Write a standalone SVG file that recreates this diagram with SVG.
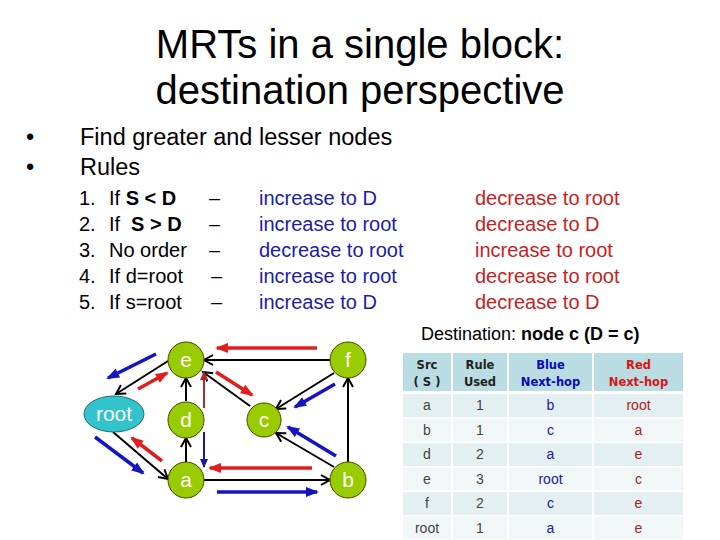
<svg xmlns="http://www.w3.org/2000/svg" width="720" height="540" viewBox="0 0 720 540">
<defs>
<style>
text{font-family:"Liberation Sans",Arial,sans-serif}
.title{font-size:40px;fill:#000;text-anchor:middle}
.bul{font-size:23.5px;fill:#000}
.rule{font-size:20px;fill:#000}
.blu{font-size:20px;fill:#1c1ca6}
.red{font-size:20px;fill:#c81e1e}
.node{fill:#99cc00;stroke:#3a4a00;stroke-width:1}
.lbl{font-size:21px;fill:#fff;text-anchor:middle}
.edge{stroke:#000;stroke-width:2;fill:none;marker-end:url(#ah)}
.ba{stroke:#1414c0;stroke-width:3.5;fill:none;marker-end:url(#bh)}
.ra{stroke:#e01e1e;stroke-width:3.5;fill:none;marker-end:url(#rh)}
.hd{font-family:"DejaVu Sans",Verdana,sans-serif;font-size:11.5px;font-weight:bold;text-anchor:middle}
.td{font-size:14px;text-anchor:middle}
</style>
<marker id="ah" markerUnits="userSpaceOnUse" markerWidth="12" markerHeight="12" refX="9" refY="5" orient="auto" overflow="visible"><path d="M0,0 L9,5 L0,10" fill="none" stroke="#000" stroke-width="2"/></marker>
<marker id="bh" markerUnits="userSpaceOnUse" markerWidth="14" markerHeight="12" refX="11" refY="5" orient="auto" overflow="visible"><path d="M0,0 L13,5 L0,10 z" fill="#1414c0"/></marker>
<marker id="rh" markerUnits="userSpaceOnUse" markerWidth="14" markerHeight="12" refX="11" refY="5" orient="auto" overflow="visible"><path d="M0,0 L13,5 L0,10 z" fill="#e01e1e"/></marker>
<marker id="bh2" markerUnits="userSpaceOnUse" markerWidth="10" markerHeight="10" refX="8" refY="4" orient="auto" overflow="visible"><path d="M0,0 L9,4 L0,8 z" fill="#1a1aa0"/></marker>
<marker id="rh2" markerUnits="userSpaceOnUse" markerWidth="10" markerHeight="10" refX="8" refY="4" orient="auto" overflow="visible"><path d="M0,0 L9,4 L0,8 z" fill="#b02828"/></marker>
</defs>
<rect width="720" height="540" fill="#fff"/>

<text class="title" x="360" y="58">MRTs in a single block:</text>
<text class="title" x="360" y="104">destination perspective</text>

<text class="bul" x="26" y="145">•</text>
<text class="bul" x="80" y="145">Find greater and lesser nodes</text>
<text class="bul" x="26" y="175">•</text>
<text class="bul" x="80" y="175">Rules</text>

<g id="rules">
<text class="rule" x="79" y="205">1.</text>
<text class="rule" x="109" y="205">If <tspan font-weight="bold">S &lt; D</tspan></text>
<text class="rule" x="209" y="205">–</text>
<text class="blu" x="259" y="205">increase to D</text>
<text class="red" x="475" y="205">decrease to root</text>

<text class="rule" x="79" y="231">2.</text>
<text class="rule" x="109" y="231">If  <tspan font-weight="bold" x="131">S &gt; D</tspan></text>
<text class="rule" x="209" y="231">–</text>
<text class="blu" x="259" y="231">increase to root</text>
<text class="red" x="475" y="231">decrease to D</text>

<text class="rule" x="79" y="257">3.</text>
<text class="rule" x="109" y="257">No order</text>
<text class="rule" x="209" y="257">–</text>
<text class="blu" x="259" y="257">decrease to root</text>
<text class="red" x="475" y="257">increase to root</text>

<text class="rule" x="79" y="283">4.</text>
<text class="rule" x="109" y="283">If d=root</text>
<text class="rule" x="211" y="283">–</text>
<text class="blu" x="259" y="283">increase to root</text>
<text class="red" x="475" y="283">decrease to root</text>

<text class="rule" x="79" y="309">5.</text>
<text class="rule" x="109" y="309">If s=root</text>
<text class="rule" x="211" y="309">–</text>
<text class="blu" x="259" y="309">increase to D</text>
<text class="red" x="475" y="309">decrease to D</text>
</g>

<g id="connectors">
<path class="edge" d="M168,361 L116,394"/>
<path class="edge" d="M113,432 L168,479"/>
<path class="edge" d="M186,401 L186,378"/>
<path class="edge" d="M186,462 L186,438"/>
<path class="edge" d="M250,406 L203,372"/>
<path class="edge" d="M330,360 L204,360"/>
<path class="edge" d="M334,373 L276,409"/>
<path class="edge" d="M334,467 L276,433"/>
<path class="edge" d="M348,462 L348,378"/>
<path class="edge" d="M204,480 L330,480"/>

<path class="ba" d="M156,354 L108,378"/>
<path class="ba" d="M95,437 L143,473"/>
<path d="M204,432 L204,467" stroke="#1a1aa0" stroke-width="2" fill="none" marker-end="url(#bh2)"/>
<path class="ba" d="M335,384 L295,407"/>
<path class="ba" d="M336,456 L288,427"/>
<path class="ba" d="M217,492 L317,492"/>

<path class="ra" d="M317,348 L217,348"/>
<path class="ra" d="M138,389 L167,373"/>
<path class="ra" d="M162,461 L132,438"/>
<path d="M204,408 L204,372" stroke="#b02828" stroke-width="2" fill="none" marker-end="url(#rh2)"/>
<path class="ra" d="M216,372 L252,395"/>
<path class="ra" d="M312,468 L210,468"/>
</g>

<g id="node-e"><circle class="node" cx="186" cy="360" r="18"/><text class="lbl" x="186" y="367">e</text></g>
<g id="node-f"><circle class="node" cx="348" cy="360" r="18"/><text class="lbl" x="348" y="367">f</text></g>
<g id="node-d"><circle class="node" cx="186" cy="420" r="18"/><text class="lbl" x="186" y="427">d</text></g>
<g id="node-c"><circle class="node" cx="264" cy="420" r="17" stroke="#000" stroke-width="3"/><text class="lbl" x="264" y="427">c</text></g>
<g id="node-a"><circle class="node" cx="186" cy="480" r="18"/><text class="lbl" x="186" y="487">a</text></g>
<g id="node-b"><circle class="node" cx="348" cy="480" r="18"/><text class="lbl" x="348" y="487">b</text></g>
<g id="node-root"><ellipse cx="114" cy="414" rx="30" ry="18" fill="#33c3cc" stroke="#1f6e74" stroke-width="1"/><text class="lbl" x="114" y="421">root</text></g>

<text x="421" y="340" font-size="18" fill="#000">Destination: <tspan font-weight="bold">node c (D = c)</tspan></text>

<g id="table">
<rect x="403" y="353" width="48" height="38" fill="#b9dde3"/>
<rect x="453" y="353" width="54" height="38" fill="#b9dde3"/>
<rect x="509" y="353" width="83" height="38" fill="#b9dde3"/>
<rect x="594" y="353" width="89" height="38" fill="#b9dde3"/>
<text class="hd" x="427" y="369" fill="#222">Src</text>
<text class="hd" x="427" y="386" fill="#222">( S )</text>
<text class="hd" x="480" y="369" fill="#222">Rule</text>
<text class="hd" x="480" y="386" fill="#222">Used</text>
<text class="hd" x="550.5" y="369" fill="#0a0ab4">Blue</text>
<text class="hd" x="550.5" y="386" fill="#0a0ab4">Next-hop</text>
<text class="hd" x="638.5" y="369" fill="#d81414">Red</text>
<text class="hd" x="638.5" y="386" fill="#d81414">Next-hop</text>

<g fill="#e4eff1">
<rect x="403" y="394" width="48" height="23"/><rect x="453" y="394" width="54" height="23"/><rect x="509" y="394" width="83" height="23"/><rect x="594" y="394" width="89" height="23"/>
<rect x="403" y="443" width="48" height="23"/><rect x="453" y="443" width="54" height="23"/><rect x="509" y="443" width="83" height="23"/><rect x="594" y="443" width="89" height="23"/>
<rect x="403" y="492" width="48" height="23"/><rect x="453" y="492" width="54" height="23"/><rect x="509" y="492" width="83" height="23"/><rect x="594" y="492" width="89" height="23"/>
</g>
<g fill="#f1f6f7">
<rect x="403" y="418.5" width="48" height="23"/><rect x="453" y="418.5" width="54" height="23"/><rect x="509" y="418.5" width="83" height="23"/><rect x="594" y="418.5" width="89" height="23"/>
<rect x="403" y="467.5" width="48" height="23"/><rect x="453" y="467.5" width="54" height="23"/><rect x="509" y="467.5" width="83" height="23"/><rect x="594" y="467.5" width="89" height="23"/>
<rect x="403" y="516.5" width="48" height="23"/><rect x="453" y="516.5" width="54" height="23"/><rect x="509" y="516.5" width="83" height="23"/><rect x="594" y="516.5" width="89" height="23"/>
</g>

<g class="td">
<text class="td" x="427" y="410" fill="#444">a</text><text class="td" x="480" y="410" fill="#444">1</text><text class="td" x="550.5" y="410" fill="#20209a">b</text><text class="td" x="638.5" y="410" fill="#a82222">root</text>
<text class="td" x="427" y="434.5" fill="#444">b</text><text class="td" x="480" y="434.5" fill="#444">1</text><text class="td" x="550.5" y="434.5" fill="#20209a">c</text><text class="td" x="638.5" y="434.5" fill="#a82222">a</text>
<text class="td" x="427" y="459" fill="#444">d</text><text class="td" x="480" y="459" fill="#444">2</text><text class="td" x="550.5" y="459" fill="#20209a">a</text><text class="td" x="638.5" y="459" fill="#a82222">e</text>
<text class="td" x="427" y="483.5" fill="#444">e</text><text class="td" x="480" y="483.5" fill="#444">3</text><text class="td" x="550.5" y="483.5" fill="#20209a">root</text><text class="td" x="638.5" y="483.5" fill="#a82222">c</text>
<text class="td" x="427" y="508" fill="#444">f</text><text class="td" x="480" y="508" fill="#444">2</text><text class="td" x="550.5" y="508" fill="#20209a">c</text><text class="td" x="638.5" y="508" fill="#a82222">e</text>
<text class="td" x="427" y="532.5" fill="#444">root</text><text class="td" x="480" y="532.5" fill="#444">1</text><text class="td" x="550.5" y="532.5" fill="#20209a">a</text><text class="td" x="638.5" y="532.5" fill="#a82222">e</text>
</g>
</g>
</svg>
